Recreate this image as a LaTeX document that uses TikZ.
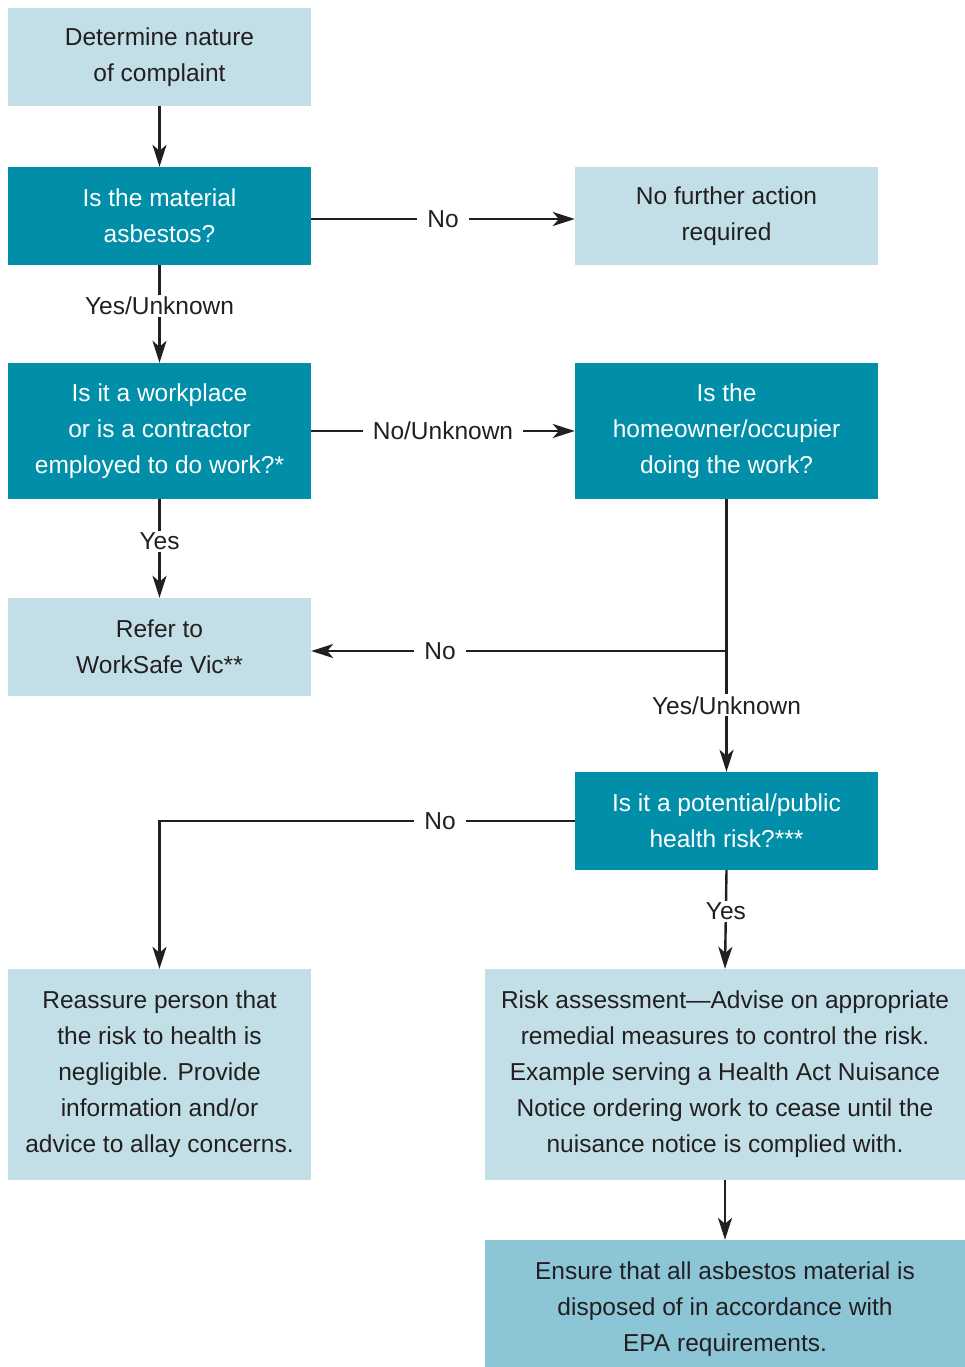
\documentclass[tikz,border=0pt]{standalone}
\usepackage{fontspec}
\setmainfont{Liberation Sans}
\usetikzlibrary{arrows.meta,calc}
\definecolor{lightbox}{HTML}{C2DFE7}
\definecolor{tealbox}{HTML}{008EA8}
\definecolor{midbox}{HTML}{8CC5D6}
\definecolor{ink}{HTML}{231F20}
\tikzset{
  x=1pt,y=-1pt,
  box/.style={inner sep=0pt,minimum width=303pt,minimum height=98pt,align=center,
    font=\fontsize{24.5}{36}\selectfont},
  lightnode/.style={box,fill=lightbox,text=ink},
  tealnode/.style={box,fill=tealbox,text=white},
  conn/.style={draw=ink,line width=2.4pt,-{Stealth[length=22pt,width=14pt,inset=6pt]}},
  plain/.style={draw=ink,line width=2.4pt},
  lbl/.style={fill=white,text=ink,inner xsep=10pt,inner ysep=2pt,font=\fontsize{24.5}{30}\selectfont}
}
\begin{document}
\begin{tikzpicture}
\useasboundingbox (0,0) rectangle (965,1367);
\node[lightnode] (A) at (159.5,57) {Determine nature\\of complaint};
\node[tealnode] (B) at (159.5,216) {Is the material\\asbestos?};
\node[lightnode] (C) at (726.5,216) {No further action\\required};
\node[tealnode,minimum height=136pt] (D) at (159.5,431) {Is it a workplace\\or is a contractor\\employed to do work?*};
\node[tealnode,minimum height=136pt] (E) at (726.5,431) {Is the\\homeowner/occupier\\doing the work?};
\node[lightnode] (F) at (159.5,647) {Refer to\\WorkSafe Vic**};
\node[tealnode] (G) at (726.5,821) {Is it a potential/public\\health risk?***};
\node[lightnode,minimum height=211pt] (H) at (159.5,1074.5) {Reassure person that\\the risk to health is\\negligible. Provide\\information and/or\\advice to allay concerns.};
\node[lightnode,minimum width=480pt,minimum height=211pt] (I) at (725,1074.5) {Risk assessment---Advise on appropriate\\remedial measures to control the risk.\\Example serving a Health Act Nuisance\\Notice ordering work to cease until the\\nuisance notice is complied with.};
\node[box,fill=midbox,text=ink,minimum width=480pt,minimum height=127pt] (J) at (725,1303.5) {\rule{0pt}{30pt}Ensure that all asbestos material is\\disposed of in accordance with\\EPA requirements.};

\coordinate (ef) at ([yshift=-4pt]E.south |- F.east);
\coordinate (gh) at (G.west -| H.north);

\draw[conn] (A.south) -- (B.north);
\draw[conn] ([yshift=-3pt]B.east) -- ([yshift=-3pt]C.west) node[lbl,midway] {No};
\draw[conn] (B.south) -- (D.north) node[lbl,pos=0.42] {Yes/Unknown};
\draw[conn] (D.east) -- (E.west) node[lbl,midway] {No/Unknown};
\draw[conn] (D.south) -- (F.north) node[lbl,pos=0.43] {Yes};
\draw[plain] (E.south) -- (ef);
\draw[conn] (ef) -- ([yshift=-4pt]F.east);
\node[lbl] (noF) at (440,651) {No};
\draw[conn] (ef) -- (G.north) node[lbl,pos=0.45] {Yes/Unknown};
\draw[conn] (G.west) -- (gh) -- (H.north);
\node[lbl] (noH) at (440,821) {No};
\draw[conn] (G.south) -- (I.north) node[lbl,pos=0.42] {Yes};
\draw[conn] (I.south) -- (J.north);
\end{tikzpicture}
\end{document}
